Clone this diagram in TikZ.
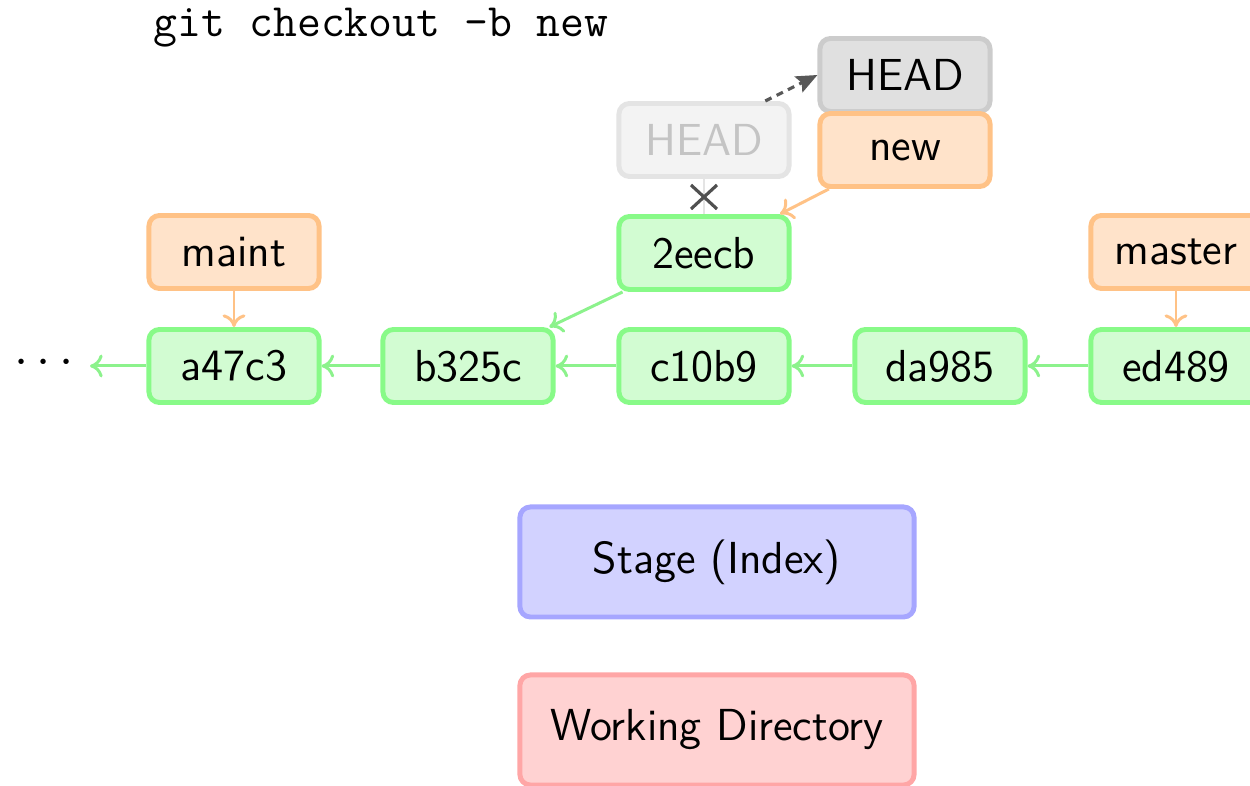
\documentclass[tikz,border=0pt]{standalone}
\usetikzlibrary{arrows.meta,calc}
\definecolor{cmtfill}{RGB}{210,252,210}
\definecolor{cmtline}{RGB}{136,250,136}
\definecolor{garrowc}{RGB}{140,242,140}
\definecolor{brfill}{RGB}{255,227,202}
\definecolor{brline}{RGB}{255,194,134}
\definecolor{hdfill}{RGB}{224,224,224}
\definecolor{hdline}{RGB}{204,204,204}
\definecolor{ohfill}{RGB}{243,243,243}
\definecolor{ohline}{RGB}{228,228,228}
\definecolor{ohtext}{RGB}{196,196,196}
\definecolor{stfill}{RGB}{210,210,255}
\definecolor{stline}{RGB}{166,166,255}
\definecolor{wdfill}{RGB}{255,210,210}
\definecolor{wdline}{RGB}{255,166,166}
\definecolor{dashc}{RGB}{88,88,88}
\definecolor{crossc}{RGB}{80,80,80}
\begin{document}
\begin{tikzpicture}[x=0.01cm,y=-0.01cm,
  box/.style={draw, rounded corners=3pt, line width=1.4pt, minimum width=1.70cm,
    minimum height=0.73cm, inner sep=0pt, font=\fontsize{12.75}{15}\sffamily},
  commit/.style={box, draw=cmtline, fill=cmtfill},
  branch/.style={box, draw=brline, fill=brfill},
  headbox/.style={box, draw=hdline, fill=hdfill},
  oldhead/.style={box, draw=ohline, fill=ohfill, text=ohtext},
  area/.style={box, minimum width=3.94cm, minimum height=1.10cm},
  garrow/.style={draw=garrowc, line width=0.85pt, -{To[length=3.6pt,width=6.5pt]}},
  oarrow/.style={draw=brline, line width=0.85pt, -{To[length=3.6pt,width=6.5pt]}},
  dasharrow/.style={draw=dashc, line width=0.9pt, dash pattern=on 2pt off 1.6pt,
    -{Stealth[length=6pt,width=5pt,inset=1pt]}},
]
\useasboundingbox (0,0) rectangle (1250,786);

\node[anchor=base west, inner sep=0pt, font=\fontsize{13.2}{15}\ttfamily] (cmd) at (153,37) {git checkout -b new};

% commits
\node[commit] (a47c3) at (234,366) {a47c3};
\node[commit] (b325c) at (468,366) {b325c};
\node[commit] (c10b9) at (704,366) {c10b9};
\node[commit] (da985) at (940,366) {da985};
\node[commit] (ed489) at (1176,366) {ed489};
\node[commit] (2eecb) at (704,253) {2eecb};

% branches
\node[branch] (maint) at (234,252) {maint};
\node[branch] (master) at (1176,252) {master};

% heads
\node[oldhead] (oldhead) at (704,140) {HEAD};
\node[headbox] (head) at (905,75) {HEAD};
\node[branch] (new) at (905,150) {new};

% areas
\node[area, draw=stline, fill=stfill] (stage) at (717,562) {Stage (Index)};
\node[area, draw=wdline, fill=wdfill] (wd) at (717,730) {Working Directory};

% dots
\node[inner sep=0pt, font=\fontsize{15.5}{17}\selectfont] (dots) at (44,363) {$\cdots$};
\coordinate (dotsend) at (90,366);

% history arrows
\draw[garrow] (a47c3) -- (dotsend);
\draw[garrow] (b325c) -- (a47c3);
\draw[garrow] (c10b9) -- (b325c);
\draw[garrow] (da985) -- (c10b9);
\draw[garrow] (ed489) -- (da985);
\draw[garrow] (2eecb) -- (b325c);

% branch arrows
\draw[oarrow] (maint) -- (a47c3);
\draw[oarrow] (master) -- (ed489);
\draw[oarrow] (new) -- (2eecb);

% old head link, crossed out
\draw[ohline, line width=0.7pt] (oldhead) -- (2eecb);
\coordinate (xc) at (704,197);
\draw[crossc, line width=0.9pt] ($(xc)+(-13,-12)$) -- ($(xc)+(13,12)$);
\draw[crossc, line width=0.9pt] ($(xc)+(-13,12)$) -- ($(xc)+(13,-12)$);

% head move
\draw[dasharrow] ($(oldhead.north)!0.7!(oldhead.north east)$) -- (head.west);
\end{tikzpicture}
\end{document}
